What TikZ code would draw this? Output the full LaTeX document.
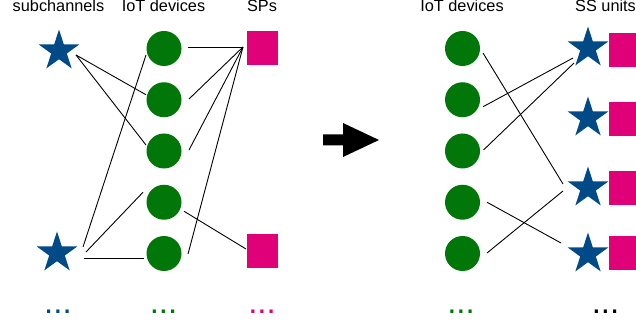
\documentclass[tikz,border=0pt]{standalone}
\usepackage{fontspec}
\setmainfont{Liberation Sans}
\usetikzlibrary{shapes.geometric}
\definecolor{sblue}{RGB}{0,75,135}
\definecolor{dgreen}{RGB}{0,119,8}
\definecolor{spmag}{RGB}{224,0,120}
\tikzset{
  title/.style={anchor=base,inner sep=0pt,font=\fontsize{16.3}{18}\selectfont},
  dev/.style={circle,fill=dgreen,draw=none,minimum size=35pt,inner sep=0pt},
  sub/.style={star,star points=5,star point ratio=2.618,fill=sblue,draw=none,minimum size=43pt,inner sep=0pt},
  sp/.style={rectangle,fill=spmag,draw=none,minimum width=31pt,minimum height=34pt,inner sep=0pt},
  dots/.style={anchor=base,inner sep=0pt,font=\fontsize{33}{36}\selectfont},
  link/.style={draw=black,line width=0.9pt}
}
\begin{document}
\begin{tikzpicture}[x=1pt,y=-1pt]
\useasboundingbox (0,0) rectangle (636,328);
% titles
\node[title] (t1) at (58.5,12) {subchannels};
\node[title] (t2) at (163.5,12) {IoT devices};
\node[title] (t3) at (262,12) {SPs};
\node[title] (t4) at (462,12) {IoT devices};
\node[title,anchor=base west] (t5) at (575,12) {SS units};
% left panel
\node[sub] (st1) at (59,51) {};
\node[sub] (st2) at (57,253) {};
\foreach \i/\y in {1/48.5,2/99.75,3/151,4/202.25,5/253.5}
  \node[dev] (c\i) at (164,\y) {};
\node[sp] (sp1) at (262,48.5) {};
\node[sp] (sp2) at (262,251) {};
\coordinate (P) at ([shift={(-19,-1.5)}]sp1.center);
\coordinate (Q) at ([shift={(17,4)}]st1.center);
\draw[link] ([shift={(24,-1.5)}]c1.center) -- ([shift={(-20,-1.5)}]sp1.center);
\draw[link] (P) -- ([shift={(25,-0.75)}]c2.center);
\draw[link] (P) -- ([shift={(25,-1)}]c3.center);
\draw[link] (P) -- ([shift={(24,0.5)}]c5.center);
\draw[link] ([shift={(20,9)}]c4.center) -- ([shift={(-16,-2)}]sp2.center);
\draw[link] (Q) -- ([shift={(-18,-5)}]c2.center);
\draw[link] (Q) -- ([shift={(-18,-6)}]c3.center);
\draw[link] ([shift={(-18,6.5)}]c1.center) -- ([shift={(26,-6)}]st2.center);
\draw[link] ([shift={(29,-1)}]st2.center) -- ([shift={(-21,-10)}]c4.center);
\draw[link] ([shift={(27,5)}]st2.center) -- ([shift={(-20,4.5)}]c5.center);
% arrow
\fill[black] (323,134.5) -- (343,134.5) -- (343,123) -- (379,140) -- (343,157) -- (343,145.5) -- (323,145.5) -- cycle;
% right panel
\foreach \i/\y in {1/48.5,2/99.75,3/151,4/202.25,5/253.5}
  \node[dev] (rc\i) at (462.5,\y) {};
\foreach \i/\y/\q in {1/48/50,2/118/119.5,3/188/188,4/254/253}{
  \node[sp] (rq\i) at (624.5,\q) {};
  \node[sub] (rs\i) at (588,\y) {};
}
\draw[link] ([shift={(20.5,4.5)}]rc1.center) -- ([shift={(-25,-4)}]rs3.center);
\draw[link] ([shift={(20.5,7)}]rc2.center) -- ([shift={(-15,10)}]rs1.center);
\draw[link] ([shift={(21,-1)}]rc3.center) -- ([shift={(-14,15)}]rs1.center);
\draw[link] ([shift={(24.5,0)}]rc4.center) -- ([shift={(-27,-11)}]rs4.center);
\draw[link] ([shift={(24.5,-0.5)}]rc5.center) -- ([shift={(-25,3)}]rs3.center);
% dots
\node[dots,text=sblue] (d1) at (58,313) {...};
\node[dots,text=dgreen] (d2) at (163.5,313) {...};
\node[dots,text=spmag] (d3) at (262,313) {...};
\node[dots,text=dgreen] (d4) at (461,313) {...};
\node[dots,text=black] (d5) at (605.5,313) {...};
\end{tikzpicture}
\end{document}
